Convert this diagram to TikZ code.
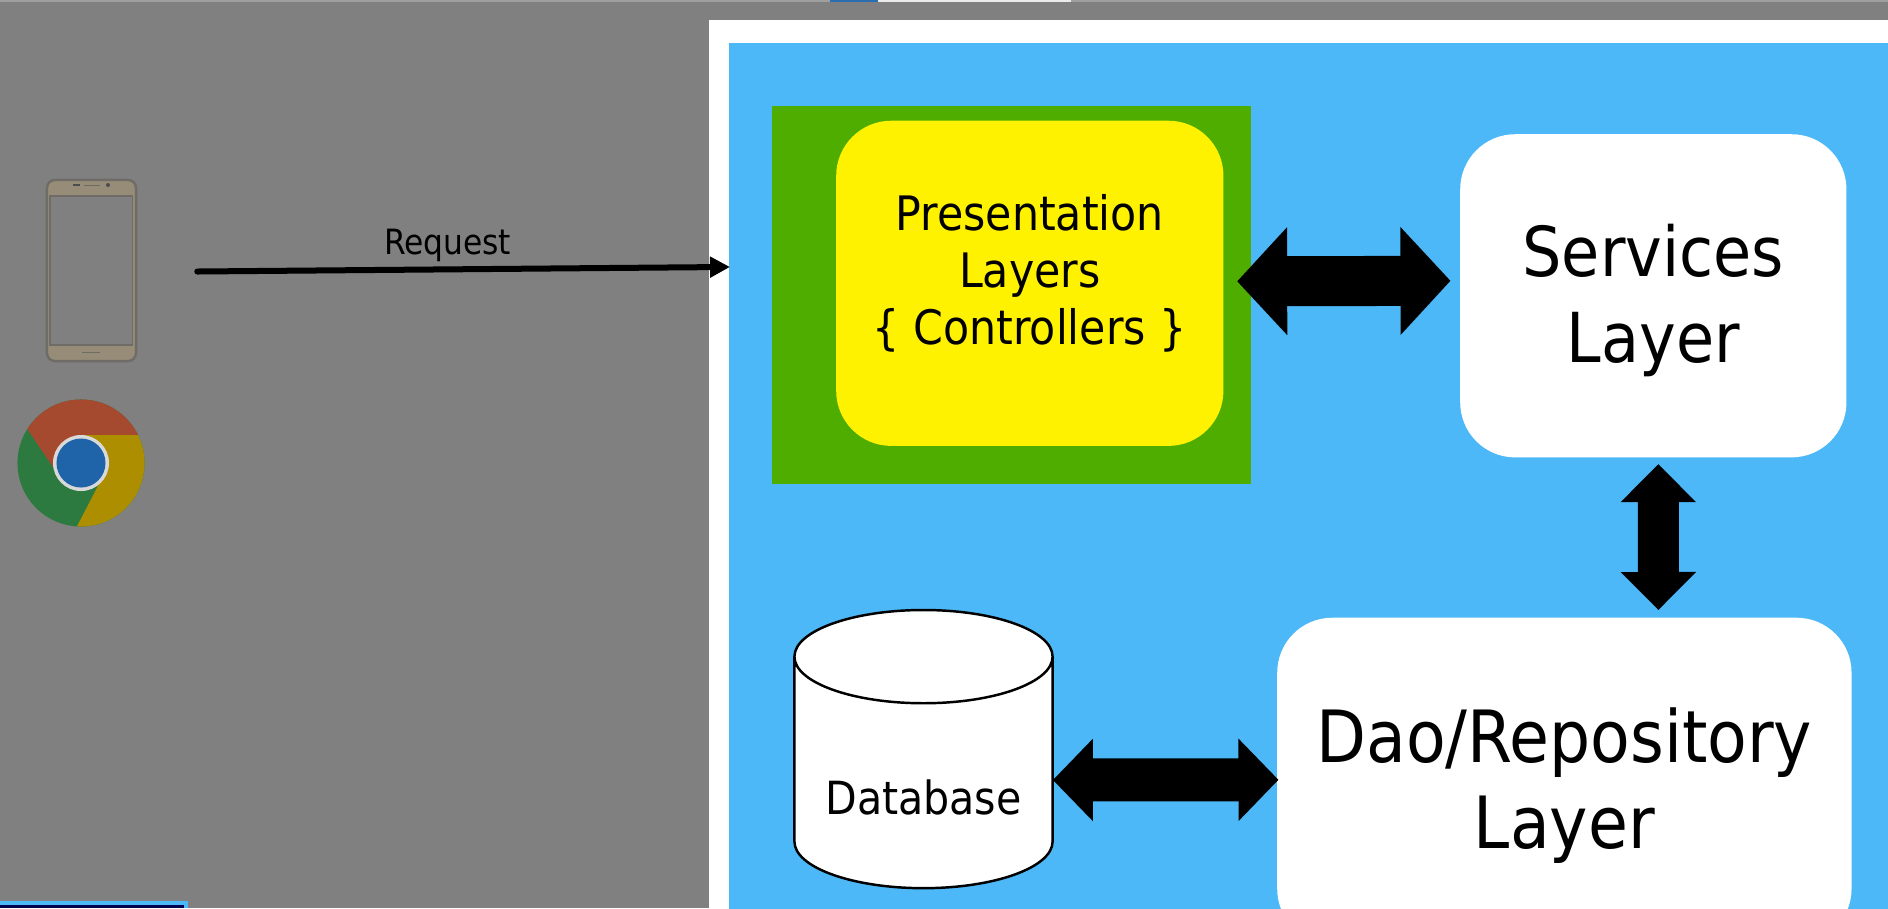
\documentclass[tikz,border=0pt]{standalone}
\usepackage{fontspec}
\setmainfont{DejaVu Sans Condensed}
\usetikzlibrary{calc,arrows.meta,shapes.geometric}

\definecolor{dimgray}{HTML}{808080}
\definecolor{panelblue}{HTML}{4DB8F7}
\definecolor{ctrlgreen}{HTML}{4FAD00}
\definecolor{ctrlyellow}{HTML}{FFF200}
\definecolor{phonetan}{HTML}{968C78}
\definecolor{phoneedge}{HTML}{6F6C68}
\definecolor{chromered}{HTML}{A5492F}
\definecolor{chromeyellow}{HTML}{AD8E00}
\definecolor{chromegreen}{HTML}{2C7A3F}
\definecolor{chromeblue}{HTML}{1F63A8}
\definecolor{tabblue}{HTML}{2A6DB0}

\tikzset{
	layerbox/.style={fill=white,rounded corners=0.55cm,anchor=north west},
	layertext/.style={align=center,font=\fontsize{#1}{24.5}\selectfont},
	blockarrow/.style={line width=0.5cm,{Triangle[length=0.5cm,width=1.05cm]}-{Triangle[length=0.5cm,width=1.05cm]}},
}

\begin{document}
\begin{tikzpicture}[x=0.01cm,y=-0.01cm]
\useasboundingbox (0,0) rectangle (1888,908);
\clip (0,0) rectangle (1888,908);
% Backdrop
\fill [dimgray] (0,0) rectangle (1888,908);
\fill [gray!75] (0,0) rectangle (1888,1.5);
\fill [tabblue] (830,0) rectangle (878,2);
\fill [white!85!gray] (878,0) rectangle (1071,2);
\fill [panelblue] (0,901) rectangle (188,908);
\fill [black!70!blue] (0,905) rectangle (184,908);

%panel
\fill [white] (709,20) rectangle (1888,908);
\node (panel) [fill=panelblue,anchor=north west,minimum width=11.6cm,minimum height=8.7cm] at (728.5,42) {};

%phone
\node (phone) [fill=phonetan,draw=phoneedge,line width=0.7pt,rounded corners=0.08cm,minimum width=0.89cm,minimum height=1.81cm,inner sep=0pt] at (91.5,270.5) {};
\fill [dimgray] (50,196) rectangle (132.5,345);
\draw [phoneedge,line width=0.4pt] (50,196) rectangle (132.5,345);
\fill [black!70] (108,185) circle (0.02cm);
\fill [black!70] (73,184) rectangle (80,186);
\fill [phoneedge] (84,184.5) rectangle (100,185.5);
\fill [phoneedge] (82,352) rectangle (100,353);

%chrome
\node (chrome) [circle,fill=chromegreen,minimum size=1.27cm,inner sep=0pt] at (81,463) {};
\begin{scope}
\clip (chrome.center) circle (0.635cm);
\fill [chromered] (81,435)--(147,435)--(147,390)--(15,390)--(15,411)--(53,467)--cycle;
\fill [chromeyellow] (81,435)--(147,435)--(147,532)--(74,532)--(100,482)--cycle;
\end{scope}
\fill [white!70!gray] (chrome.center) circle (0.28cm);
\fill [chromeblue] (chrome.center) circle (0.245cm);

%request
\draw [line width=0.06cm,line cap=round,-{Triangle[length=0.2cm,width=0.2cm]}] ($(phone.east)+(60,1)$)--($(panel.west)+(1.5,-211)$)
	node[pos=.47,above=-0.07cm] (reqlabel) {\fontsize{9.9}{11}\selectfont Request};

%controllers
\node (ctrlback) [fill=ctrlgreen,anchor=north west,minimum width=4.79cm,minimum height=3.78cm] at (771.5,105) {};
\node (pres) [fill=ctrlyellow,rounded corners=0.55cm,anchor=north west,minimum width=3.87cm,minimum height=3.25cm] at (835.5,120) {};
\node (prestext) [align=center,font=\fontsize{13.5}{16.2}\selectfont] at ($(pres)+(0,-10)$) {Presentation\\Layers\\\{ Controllers \}};

%layers
\node (serv) [layerbox,minimum width=3.86cm,minimum height=3.23cm] at (1459.5,133.5) {};
\node (servtext) [layertext=19.6] at ($(serv)+(0,5)$) {Services\\Layer};
\node (dao) [layerbox,minimum width=5.74cm,minimum height=3.26cm] at (1276.5,617) {};
\node (daotext) [layertext=20.5] at ($(dao)+(0,5)$) {Dao/Repository\\Layer};
\node (db) [cylinder,shape border rotate=90,aspect=0.475,draw=black,fill=white,line width=0.7pt,minimum width=2.58cm,minimum height=2.78cm,inner sep=0pt,font=\fontsize{13}{16}\selectfont] at (923.5,773) {\phantom{Database}};
\node (dbtext) [font=\fontsize{13}{16}\selectfont] at ($(db.center)+(0,24)$) {Database};

%block arrows
\draw [blockarrow] ($(pres.east)+(13,-2)$)--($(serv.west)+(-9,-15)$);
\draw [blockarrow,line width=0.41cm,{Triangle[length=0.38cm,width=0.73cm]}-{Triangle[length=0.38cm,width=0.73cm]}] ($(serv.south)+(5,6)$)--($(dao.north)+(94,-7)$);
\draw [blockarrow,line width=0.43cm,{Triangle[length=0.4cm,width=0.8cm]}-{Triangle[length=0.4cm,width=0.8cm]}] ($(db.east)+(-1,7)$)--($(dao.west)+(2,-1)$);
\end{tikzpicture}
\end{document}
